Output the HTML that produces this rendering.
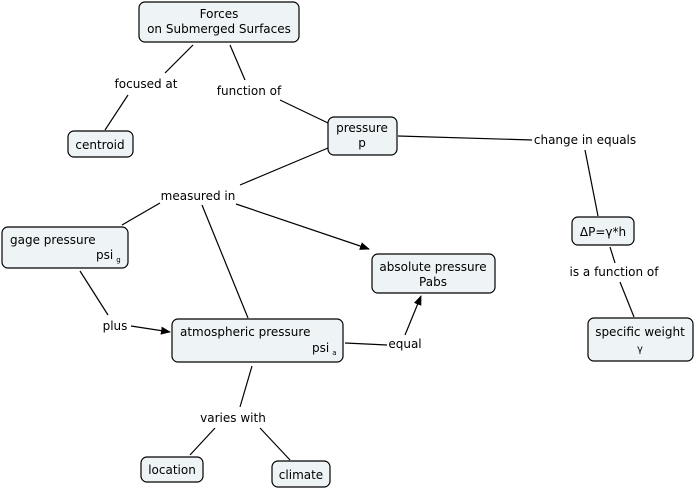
<!DOCTYPE html>
<html><head><style>
body{margin:0;background:#fff;}
svg{display:block;font-family:"DejaVu Sans","Liberation Sans",sans-serif;font-size:12px;}
</style></head><body>
<svg width="695" height="490" viewBox="0 0 695 490" xmlns="http://www.w3.org/2000/svg">
<defs><marker id="a" markerWidth="10" markerHeight="8" refX="9" refY="4" orient="auto" markerUnits="userSpaceOnUse"><path d="M0,0 L10,4 L0,8z" fill="#000"/></marker></defs>
<g stroke="#000" stroke-width="1.2" fill="none">
<line x1="193" y1="45" x2="165" y2="73"/>
<line x1="128" y1="95" x2="105" y2="130"/>
<line x1="230" y1="45" x2="245" y2="80"/>
<line x1="280" y1="100" x2="328" y2="123"/>
<line x1="398" y1="136" x2="532" y2="140"/>
<line x1="585" y1="150" x2="598" y2="216"/>
<line x1="328" y1="148" x2="240" y2="185"/>
<line x1="160" y1="203" x2="122" y2="225"/>
<line x1="236" y1="204" x2="369" y2="249" marker-end="url(#a)"/>
<line x1="202" y1="205" x2="248" y2="318"/>
<line x1="610" y1="247" x2="615" y2="263"/>
<line x1="620" y1="282" x2="634" y2="317"/>
<line x1="80" y1="271" x2="108" y2="315"/>
<line x1="131" y1="326" x2="170" y2="332" marker-end="url(#a)"/>
<line x1="345" y1="343" x2="387" y2="345"/>
<line x1="405" y1="335" x2="421" y2="296" marker-end="url(#a)"/>
<line x1="252" y1="366" x2="240" y2="407"/>
<line x1="215" y1="428" x2="190" y2="455"/>
<line x1="260" y1="428" x2="290" y2="460"/>
</g>
<g fill="#eef3f5" stroke="#000" stroke-width="1.2">
<rect x="139" y="2" width="160" height="40" rx="6"/>
<rect x="68" y="131" width="65" height="26" rx="6"/>
<rect x="328" y="117" width="69" height="38" rx="6"/>
<rect x="572" y="217" width="62" height="28" rx="6"/>
<rect x="588" y="318" width="105" height="43" rx="6"/>
<rect x="2" y="227" width="126" height="41" rx="6"/>
<rect x="372" y="254" width="123" height="39" rx="6"/>
<rect x="172" y="319" width="171" height="43" rx="6"/>
<rect x="141" y="457" width="62" height="25" rx="6"/>
<rect x="272" y="461" width="58" height="26" rx="6"/>
</g>
<g fill="#000" text-anchor="middle">
<text x="219" y="18">Forces</text>
<text x="219" y="33">on Submerged Surfaces</text>
<text x="100" y="149">centroid</text>
<text x="362" y="132">pressure</text>
<text x="362" y="147">p</text>
<text x="603" y="236">ΔP=γ*h</text>
<text x="640" y="336">specific weight</text>
<text x="640" y="352" font-size="10">γ</text>
<text x="433" y="271">absolute pressure</text>
<text x="433" y="286">Pabs</text>
<text x="146" y="88">focused at</text>
<text x="249" y="95">function of</text>
<text x="585" y="144">change in equals</text>
<text x="198" y="200">measured in</text>
<text x="614" y="276">is a function of</text>
<text x="115" y="330">plus</text>
<text x="405" y="348">equal</text>
<text x="233" y="422">varies with</text>
<text x="172" y="474">location</text>
<text x="301" y="479">climate</text>
</g>
<g fill="#000">
<text x="10" y="244">gage pressure</text>
<text x="96" y="259">psi<tspan font-size="7" dx="3" dy="3">g</tspan></text>
<text x="180" y="336">atmospheric pressure</text>
<text x="312" y="352">psi<tspan font-size="7" dx="3" dy="3">a</tspan></text>
</g>
</svg>
</body></html>
